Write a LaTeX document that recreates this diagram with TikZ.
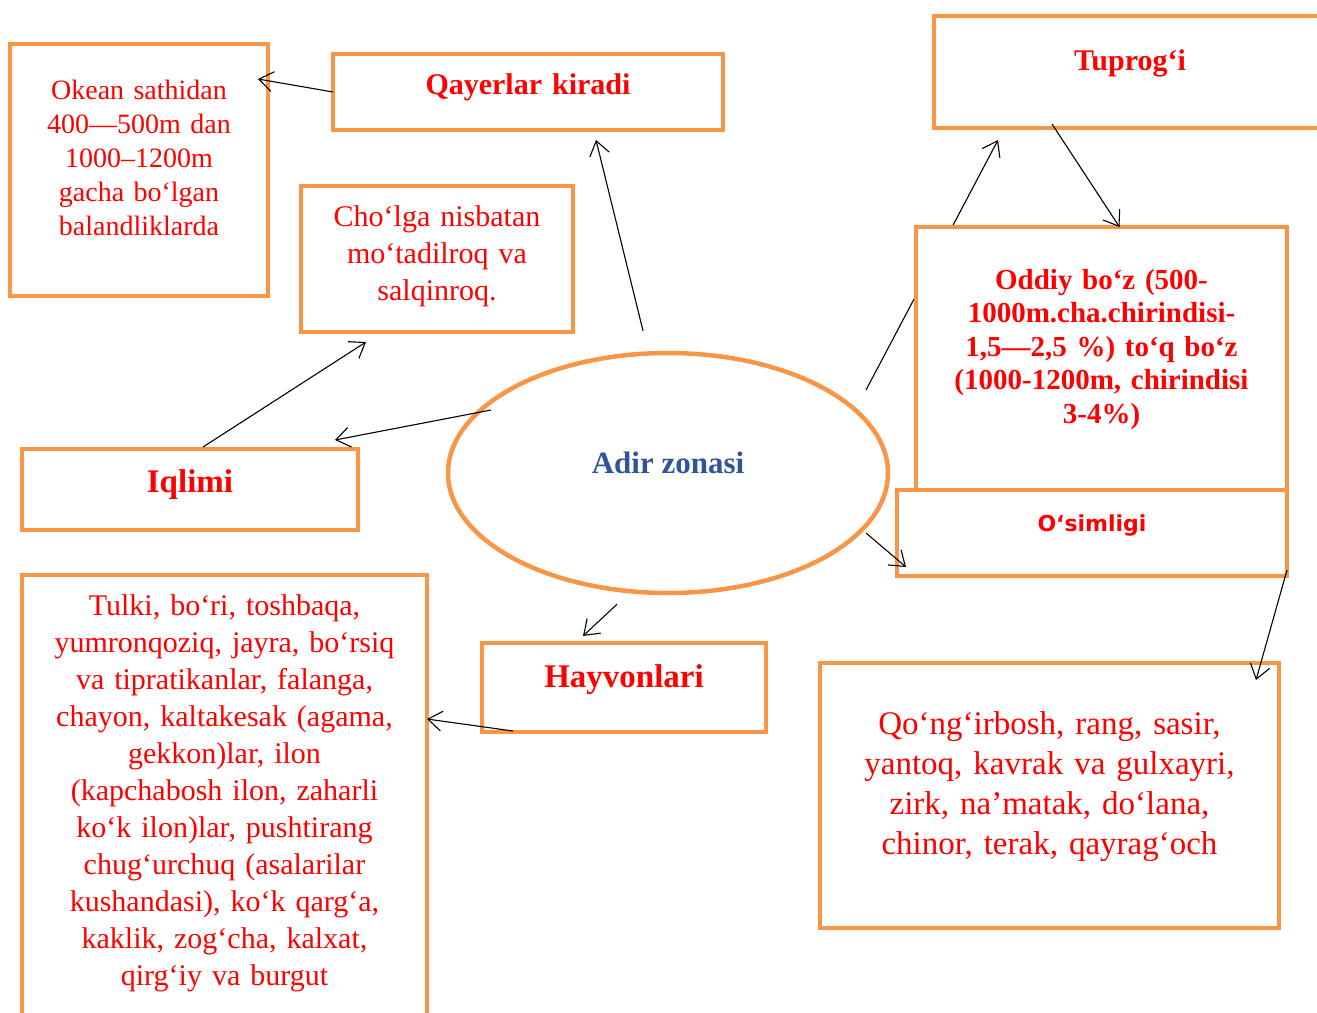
\documentclass[tikz,border=0pt]{standalone}
\usepackage{fontspec}
\setmainfont{Liberation Serif}
\newfontfamily\osimfont{DejaVu Sans}
\usepackage{xcolor}
\usetikzlibrary{positioning}
\usetikzlibrary{arrows.meta, shapes.geometric, backgrounds}
\definecolor{boxorange}{RGB}{247,150,70}
\definecolor{zoneblue}{RGB}{47,85,151}
\newcommand{\fs}[2]{\fontsize{#1}{#2}\selectfont}
\tikzset{
    infobox/.style={draw=boxorange, line width=4.5pt, fill=white, inner sep=0pt, outer sep=0pt,
        align=center, anchor=north west, text=red},
    link/.style={line width=1.1pt, -{Straight Barb[length=14pt,width=20pt]}},
}

\begin{document}
\begin{tikzpicture}[x=1pt, y=-1pt]
            \path[use as bounding box, clip] (0,0) rectangle (1317,1012);
            \node[infobox, text width=258pt, text height=55pt, text depth=197pt, font=\fs{28}{34}] (okean) at (10,44)
                {Okean sathidan\\400—500m dan\\1000–1200m\\gacha bo‘lgan\\balandliklarda};
            \node[infobox, text width=390pt, text height=40pt, text depth=36pt, font=\bfseries\fs{30}{36}] (qay) at (333,54)
                {Qayerlar kiradi};
            \node[infobox, text width=272pt, text height=40pt, text depth=106pt, font=\fs{30}{37}] (chol) at (301,186)
                {Cho‘lga nisbatan\\mo‘tadilroq va\\salqinroq.};
            \node[infobox, text width=336pt, text height=43pt, text depth=38pt, font=\bfseries\fs{33}{39}] (iqlim) at (22,449)
                {Iqlimi};
            \node[infobox, text width=405pt, text height=40pt, text depth=415pt, font=\fs{30}{37}] (tulki) at (22,575)
                {Tulki, bo‘ri, toshbaqa,\\yumronqoziq, jayra, bo‘rsiq\\va tipratikanlar, falanga,\\chayon, kaltakesak (agama,\\gekkon)lar, ilon\\(kapchabosh ilon, zaharli\\ko‘k ilon)lar, pushtirang\\chug‘urchuq (asalarilar\\kushandasi), ko‘k qarg‘a,\\kaklik, zog‘cha, kalxat,\\qirg‘iy va burgut};
            \node[infobox, text width=284pt, text height=44pt, text depth=45pt, font=\bfseries\fs{33}{39}] (hayvon) at (482,643)
                {Hayvonlari};
            \node[infobox, text width=392pt, text height=54pt, text depth=58pt, font=\bfseries\fs{30}{36}] (tuproq) at (934,16)
                {Tuprog‘i};
            \node[infobox, text width=371pt, text height=62pt, text depth=211pt, font=\bfseries\fs{29}{33.5}] (oddiy) at (916,227)
                {Oddiy bo‘z (500-\\1000m.cha.chirindisi-\\1,5—2,5 \%) to‘q bo‘z\\(1000-1200m, chirindisi\\3-4\%)};
            \node[infobox, text width=390pt, text height=41pt, text depth=45pt, font=\osimfont\bfseries\fs{22}{26}] (osim) at (897,490)
                {O‘simligi};
            \node[infobox, text width=459pt, text height=71pt, text depth=194pt, font=\fs{33}{40}] (qongir) at (820,663)
                {Qo‘ng‘irbosh, rang, sasir,\\yantoq, kavrak va gulxayri,\\zirk, na’matak, do‘lana,\\chinor, terak, qayrag‘och};
            \node[ellipse, draw=boxorange, line width=4.5pt, minimum width=440pt, minimum height=240pt, inner sep=0pt,
                text=zoneblue, font=\bfseries\fs{31}{37}, text height=10pt, text depth=10pt] (zona) at (668,473)
                {Adir zonasi};

            \draw[link] (qay.west) -- ([shift={(-10,35)}]okean.north east);
            \draw[link] ([shift={(-25,-20)}]zona.north) -- ([shift={(68,10)}]qay.south);
            \draw[link] ([shift={(13,-2)}]iqlim.north) -- ([shift={(-71,10)}]chol.south);
            \draw[link] ([shift={(-177,-63)}]zona.center) -- ([shift={(-23,-9)}]iqlim.north east);
            \begin{scope}[on background layer]
                \draw[link] ([shift={(198,-83)}]zona.center) -- ([shift={(64,12)}]tuproq.south west);
            \end{scope}
            \draw[link] ([shift={(118,-4)}]tuproq.south west) -- ([shift={(18,0)}]oddiy.north);
            \draw[link] ([shift={(198,60)}]zona.center) -- ([shift={(9,-9)}]osim.south west);
            \draw[link] ([shift={(0,-6)}]osim.south east) -- ([shift={(-23,17)}]qongir.north east);
            \draw[link] ([shift={(-51,9)}]zona.south) -- ([shift={(101,-7)}]hayvon.north west);
            \draw[link] ([shift={(31,-1)}]hayvon.south west) -- ([shift={(0,144)}]tulki.north east);
\end{tikzpicture}
\end{document}
